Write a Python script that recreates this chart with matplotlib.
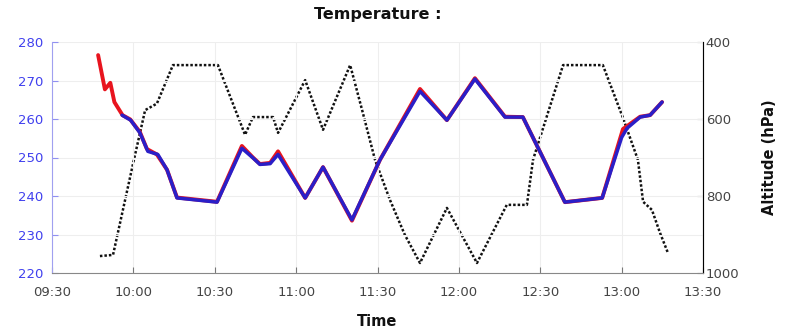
import pandas as pd
import matplotlib.pyplot as plt
import matplotlib.dates as mdates

# temperature (K), red series
red_times = ["09:47:00", "09:49:30", "09:51:30", "09:53:00", "09:56:00", "09:58:50",
             "10:02:25", "10:05:00", "10:08:40", "10:12:25", "10:16:05", "10:30:50",
             "10:40:00", "10:44:05", "10:46:40", "10:50:25", "10:53:20", "11:03:20",
             "11:09:55", "11:20:35", "11:30:55", "11:45:40", "11:55:35", "12:05:55",
             "12:17:00", "12:23:35", "12:39:05", "12:52:50", "13:00:30", "13:06:50",
             "13:10:30", "13:14:55"]
red_temp = [276.6, 267.7, 269.4, 264.4, 261.0, 259.9,
            256.6, 252.2, 250.8, 246.8, 239.6, 238.5,
            253.0, 250.0, 248.3, 248.6, 251.6, 239.5,
            247.5, 233.6, 249.4, 267.8, 259.7, 270.6,
            260.6, 260.5, 238.4, 239.5, 257.4, 260.6,
            261.0, 264.4]

# temperature (K), blue series
blue_times = ["09:55:50", "09:59:00", "10:02:25", "10:05:20", "10:09:00",
              "10:12:25", "10:16:05", "10:30:50", "10:40:00", "10:44:05", "10:46:40",
              "10:50:25", "10:53:20", "11:03:20", "11:09:55", "11:20:35", "11:30:55",
              "11:45:40", "11:55:35", "12:05:55", "12:17:00", "12:23:35", "12:39:05",
              "12:52:50", "13:00:00", "13:02:00", "13:06:50", "13:10:30", "13:14:55"]
blue_temp = [261.0, 259.7, 256.4, 251.6, 250.8,
             246.8, 239.5, 238.4, 252.4, 249.9, 248.2,
             248.4, 250.8, 239.5, 247.5, 233.8, 249.4,
             267.2, 259.7, 270.4, 260.5, 260.5, 238.4,
             239.5, 255.2, 257.6, 260.5, 261.0, 264.4]

# altitude (hPa)
alt_times = ["09:47:40", "09:52:30", "09:59:55", "10:04:20", "10:08:40", "10:14:35",
             "10:31:10", "10:41:10", "10:44:05", "10:51:30", "10:53:20", "11:03:20",
             "11:09:55", "11:19:55", "11:24:20", "11:29:05", "11:34:35", "11:40:05",
             "11:45:40", "11:55:35", "12:06:40", "12:17:40", "12:25:05", "12:27:20",
             "12:38:25", "12:53:05", "13:00:30", "13:06:00", "13:07:55", "13:11:10",
             "13:14:10", "13:17:05"]
alt_hpa = [956, 953, 715, 577, 560, 460,
           460, 641, 595, 595, 636, 499,
           628, 460, 577, 706, 810, 901,
           974, 831, 974, 823, 823, 706,
           460, 460, 597, 706, 815, 836,
           896, 948]

x_ticks = ["09:30", "10:00", "10:30", "11:00", "11:30", "12:00", "12:30", "13:00", "13:30"]
temp_ticks = [220, 230, 240, 250, 260, 270, 280]
alt_ticks = [400, 600, 800, 1000]


def to_dt(times):
    return pd.to_datetime(["2000-01-01 " + t for t in times])


plt.rcParams['font.family'] = ['DejaVu Sans']

fig = plt.figure(figsize=(7.86, 3.31), dpi=100)
# axes box: x 52..703 px, y 42..273 px
ax = fig.add_axes([52 / 786, 58 / 331, 651 / 786, 231 / 331])
ax2 = ax.twinx()
ax.set_zorder(ax2.get_zorder() + 1)
ax.patch.set_visible(False)

ax2.plot(to_dt(alt_times), alt_hpa, color='#111111', lw=1.8, linestyle=(0, (1, 0.8)))
ax.plot(to_dt(red_times), red_temp, color='#e8141e', lw=2.8, solid_capstyle='round')
ax.plot(to_dt(blue_times), blue_temp, color='#2a1fc8', lw=2.5, solid_capstyle='round')

xt = to_dt(x_ticks)
ax.set_xlim(xt[0], xt[-1])
ax.set_xticks(xt)
ax.xaxis.set_major_formatter(mdates.DateFormatter('%H:%M'))
ax.set_ylim(220, 280)
ax.set_yticks(temp_ticks)
ax2.set_ylim(1000, 400)
ax2.set_yticks(alt_ticks)

ax.grid(True, color='#eeeeee', lw=0.8)
ax.tick_params(axis='x', direction='in', length=4, labelsize=9.5, pad=9, colors='#777777',
               labelcolor='#444444')
ax.tick_params(axis='y', direction='in', length=4, labelsize=9.5, pad=6, colors='#9090f0',
               labelcolor='#4040ee')
ax2.tick_params(axis='y', direction='in', length=4, labelsize=9.5, pad=2, colors='#777777',
                labelcolor='#444444')

for a in (ax, ax2):
    a.spines['top'].set_visible(False)
ax.spines['left'].set_color('#a0a0f0')
ax.spines['bottom'].set_color('#888888')
ax2.spines['right'].set_color('#888888')
ax2.spines['left'].set_visible(False)
ax2.spines['bottom'].set_visible(False)

fig.text(377.5 / 786, 1 - 14 / 331, 'Temperature :', fontsize=11.5, fontweight='bold',
         ha='center', va='center', color='#111111')
ax.set_xlabel('Time', fontsize=10.5, fontweight='bold', color='#111111')
ax.xaxis.set_label_coords(0.5, -0.178)
ax2.set_ylabel('Altitude (hPa)', fontsize=10.5, fontweight='bold', color='#111111')
ax2.yaxis.set_label_coords(1.09, 0.5)

fig.savefig('out.png', dpi=100)
